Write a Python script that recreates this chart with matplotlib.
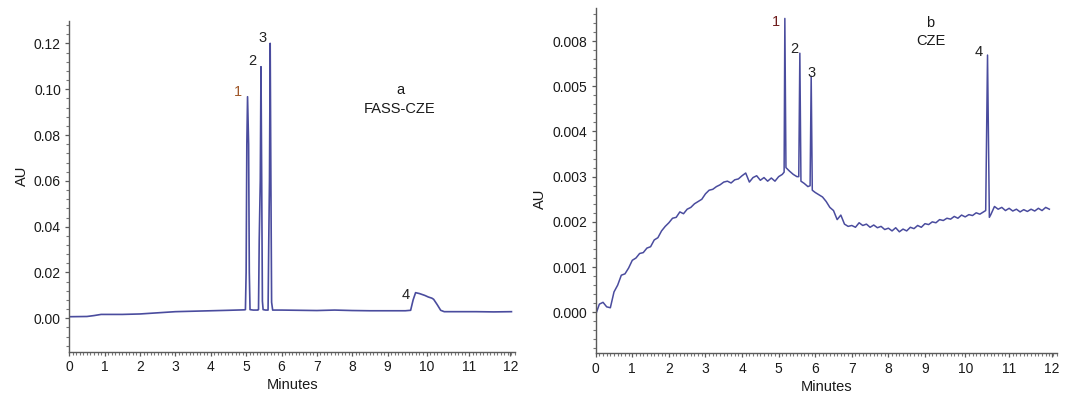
import matplotlib
matplotlib.use("Agg")
from matplotlib import pyplot as plt
from matplotlib.ticker import MultipleLocator

plt.rcParams['font.family'] = ['Liberation Sans', 'DejaVu Sans']

# ---- panel a: FASS-CZE ----
a_time = [0.0, 0.5, 0.7, 0.9, 1.5, 2.0, 2.3, 2.6, 3.0, 3.5, 4.0, 4.5, 4.95,
          4.98, 5.00, 5.02, 5.04, 5.07, 5.09, 5.11,
          5.20, 5.33,
          5.35, 5.37, 5.40, 5.42, 5.44, 5.46, 5.48,
          5.55,
          5.62, 5.64, 5.66, 5.68, 5.70, 5.72, 5.75,
          6.0, 6.5, 7.0, 7.5, 8.0, 8.5, 9.0, 9.5,
          9.65, 9.72, 9.79, 9.9, 10.05, 10.15, 10.25, 10.3, 10.4, 10.5, 10.6,
          11.0, 11.5, 12.0, 12.5]
a_au = [0.0007, 0.0008, 0.0012, 0.0017, 0.0017, 0.0019, 0.0022, 0.0025, 0.0029, 0.0031, 0.0033, 0.0035, 0.0037,
        0.0038, 0.020, 0.076, 0.0967, 0.076, 0.020, 0.0038,
        0.0036, 0.0036,
        0.0038, 0.034, 0.060, 0.1098, 0.060, 0.0075, 0.0038,
        0.0036,
        0.0036, 0.034, 0.060, 0.120, 0.060, 0.0070, 0.0036,
        0.0036, 0.0035, 0.0034, 0.0036, 0.0034, 0.0033, 0.0033, 0.0033,
        0.0035, 0.0080, 0.0112, 0.0108, 0.0100, 0.0093, 0.0088, 0.0083, 0.0060, 0.0035, 0.0029,
        0.0029, 0.0029, 0.0028, 0.0029]

# ---- panel b: CZE ----
b_time = [0.0, 0.1, 0.2, 0.3, 0.4, 0.5, 0.6, 0.7, 0.8, 0.9,
          1.0, 1.1, 1.2, 1.3, 1.4, 1.5, 1.6, 1.7, 1.8, 1.9,
          2.0, 2.1, 2.2, 2.3, 2.4, 2.5, 2.6, 2.7, 2.8, 2.9,
          3.0, 3.1, 3.2, 3.3, 3.4, 3.5, 3.6, 3.7, 3.8, 3.9,
          4.0, 4.1, 4.2, 4.3, 4.4, 4.5, 4.6, 4.7, 4.8, 4.9,
          5.0, 5.1, 5.15, 5.17, 5.20, 5.3, 5.4, 5.5,
          5.55, 5.58, 5.61, 5.7, 5.8,
          5.86, 5.89, 5.92,
          6.0, 6.1, 6.2, 6.3, 6.4, 6.5, 6.6, 6.7, 6.8, 6.9,
          7.0, 7.1, 7.2, 7.3, 7.4, 7.5, 7.6, 7.7, 7.8, 7.9,
          8.0, 8.1, 8.2, 8.3, 8.4, 8.5, 8.6, 8.7, 8.8, 8.9,
          9.0, 9.1, 9.2, 9.3, 9.4, 9.5, 9.6, 9.7, 9.8, 9.9,
          10.0, 10.1, 10.2, 10.3, 10.4, 10.5, 10.6,
          10.66, 10.71, 10.76,
          10.8, 10.9, 11.0, 11.1, 11.2, 11.3, 11.4, 11.5, 11.6, 11.7,
          11.8, 11.9, 12.0, 12.1, 12.2, 12.3, 12.4]
b_au = [-0.00005, 0.00018, 0.00022, 0.00012, 0.00010, 0.00045, 0.00060, 0.00082, 0.00085, 0.00098,
        0.00115, 0.00120, 0.00130, 0.00132, 0.00142, 0.00145, 0.00160, 0.00165, 0.00180, 0.00190,
        0.00198, 0.00208, 0.00210, 0.00222, 0.00218, 0.00228, 0.00232, 0.00240, 0.00245, 0.00250,
        0.00262, 0.00270, 0.00272, 0.00278, 0.00282, 0.00288, 0.00290, 0.00286, 0.00293, 0.00295,
        0.00302, 0.00308, 0.00288, 0.00298, 0.00302, 0.00292, 0.00298, 0.00290, 0.00297, 0.00290,
        0.00300, 0.00305, 0.00310, 0.00650, 0.00320, 0.00312, 0.00305, 0.00300,
        0.00300, 0.00573, 0.00290, 0.00285, 0.00278,
        0.00280, 0.00522, 0.00270,
        0.00265, 0.00260, 0.00255, 0.00245, 0.00232, 0.00225, 0.00205, 0.00215, 0.00195, 0.00190,
        0.00192, 0.00188, 0.00198, 0.00192, 0.00195, 0.00188, 0.00193, 0.00187, 0.00190, 0.00183,
        0.00186, 0.00180, 0.00187, 0.00178, 0.00184, 0.00180, 0.00188, 0.00185, 0.00192, 0.00188,
        0.00196, 0.00194, 0.00200, 0.00198, 0.00205, 0.00203, 0.00208, 0.00206, 0.00212, 0.00208,
        0.00215, 0.00211, 0.00216, 0.00214, 0.00220, 0.00217, 0.00222,
        0.00225, 0.00569, 0.00210,
        0.00216, 0.00234, 0.00228, 0.00232, 0.00225, 0.00230, 0.00224, 0.00228, 0.00222, 0.00227,
        0.00223, 0.00228, 0.00224, 0.00230, 0.00225, 0.00232, 0.00228]

# tick labels as printed in the figure
x_tick_pos = [0, 1, 2, 3, 4, 5, 6, 7, 8, 9, 10.1, 11.3, 12.47]
x_tick_lab = ['0', '1', '2', '3', '4', '5', '6', '7', '8', '9', '10', '11', '12']
a_ytick_pos = [0.0, 0.02, 0.04, 0.06, 0.08, 0.10, 0.12]
a_ytick_lab = ['0.00', '0.02', '0.04', '0.06', '0.08', '0.10', '0.12']
b_ytick_pos = [0.0, 0.001, 0.002, 0.003, 0.004, 0.005, 0.006]
b_ytick_lab = ['0.000', '0.001', '0.002', '0.003', '0.004', '0.005', '0.008']

a_peaks = [('1', 4.77, 0.0989, '#a0582a'), ('2', 5.18, 0.1124, '#222222'),
           ('3', 5.46, 0.1222, '#222222'), ('4', 9.52, 0.0100, '#222222')]
b_peaks = [('1', 4.94, 0.00643, '#6e1c1c'), ('2', 5.44, 0.00582, '#222222'),
           ('3', 5.89, 0.00530, '#222222'), ('4', 10.47, 0.00576, '#222222')]

line_col = '#4a4c9e'
spine_col = '#5a5a5a'

fig = plt.figure(figsize=(10.72, 3.97), dpi=100)
ax1 = fig.add_axes([0.0646, 0.1141, 0.4158, 0.8338])
ax2 = fig.add_axes([0.5557, 0.1098, 0.4300, 0.8711])


def style(ax, ylim, ypos, ylab, yminor, au_xy):
    ax.set_xlim(0, 12.6)
    ax.set_ylim(*ylim)
    for s in ['top', 'right']:
        ax.spines[s].set_visible(False)
    for s in ['left', 'bottom']:
        ax.spines[s].set_color(spine_col)
        ax.spines[s].set_linewidth(1.0)
    ax.set_xticks(x_tick_pos)
    ax.set_xticklabels(x_tick_lab)
    ax.set_yticks(ypos)
    ax.set_yticklabels(ylab)
    ax.xaxis.set_minor_locator(MultipleLocator(0.1))
    ax.yaxis.set_minor_locator(MultipleLocator(yminor))
    ax.tick_params(which='major', length=3, width=0.9, color=spine_col,
                   labelsize=10, labelcolor='#1a1a1a', pad=3)
    ax.tick_params(which='minor', length=2.2, width=0.8, color='#777777')
    ax.set_xlabel('Minutes', fontsize=10.5, color='#1a1a1a', labelpad=3)
    ax.set_ylabel('AU', fontsize=10.5, color='#1a1a1a')
    ax.yaxis.set_label_coords(*au_xy)


ax1.plot(a_time, a_au, color=line_col, lw=1.2)
style(ax1, (-0.01457, 0.1299), a_ytick_pos, a_ytick_lab, 0.004, (-0.09, 0.532))
for lab, x, y, c in a_peaks:
    ax1.text(x, y, lab, ha='center', va='center', fontsize=10.5, color=c)
ax1.text(9.35, 0.0996, 'a', ha='center', va='center', fontsize=10.5, color='#1a1a1a')
ax1.text(9.35, 0.0913, 'FASS-CZE', ha='center', va='center', fontsize=10.5, color='#1a1a1a')

ax2.plot(b_time, b_au, color=line_col, lw=1.1)
style(ax2, (-0.00091, 0.00674), b_ytick_pos, b_ytick_lab, 0.0002, (-0.105, 0.446))
for lab, x, y, c in b_peaks:
    ax2.text(x, y, lab, ha='center', va='center', fontsize=10.5, color=c)
ax2.text(9.15, 0.00641, 'b', ha='center', va='center', fontsize=10.5, color='#1a1a1a')
ax2.text(9.15, 0.00600, 'CZE', ha='center', va='center', fontsize=10.5, color='#1a1a1a')

fig.savefig('out.png', dpi=100)
